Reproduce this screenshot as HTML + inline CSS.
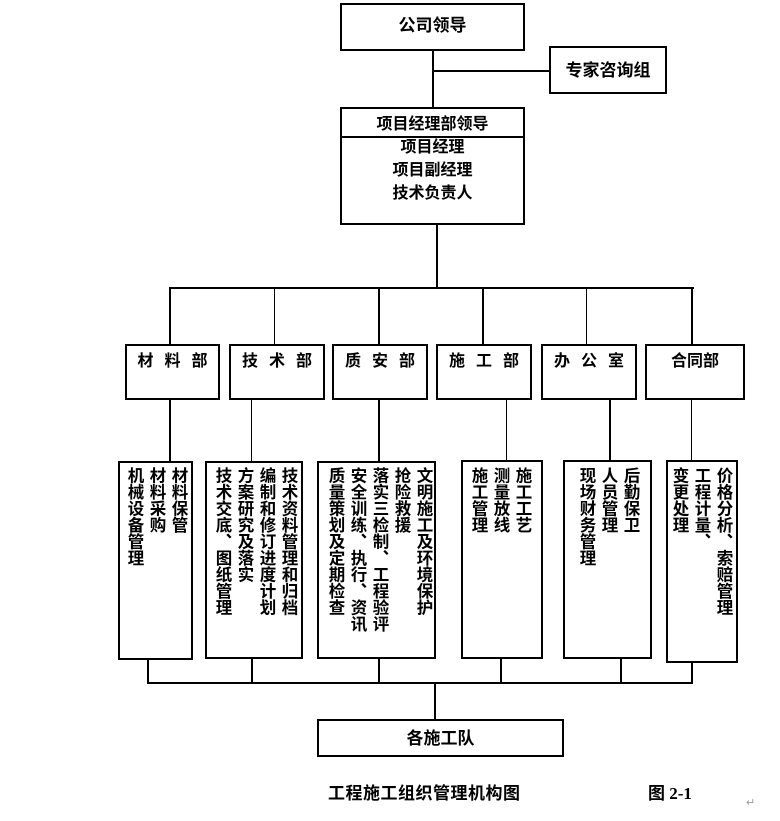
<!DOCTYPE html>
<html><head><meta charset="utf-8"><style>
body{margin:0;width:780px;height:821px;background:#fff;position:relative;overflow:hidden;font-family:"Liberation Serif","Noto Sans CJK SC",sans-serif;font-weight:bold;color:#000}
.b{position:absolute;border:2px solid #000;box-sizing:border-box;background:#fff}
.l{position:absolute;background:#000}
.t{position:absolute;font-size:16px;white-space:nowrap;line-height:1}
.v{position:absolute;writing-mode:vertical-rl;font-size:16.5px;line-height:22px;white-space:nowrap}
.d{position:absolute;top:353px;font-size:16px;line-height:18px;text-align:center;letter-spacing:11px;text-indent:11px}
</style></head><body>
<!-- lines -->
<div class="l" style="left:432px;top:50px;width:2px;height:58px"></div>
<div class="l" style="left:433px;top:70px;width:116px;height:2px"></div>
<div class="l" style="left:436px;top:224px;width:2px;height:65px"></div>
<div class="l" style="left:169px;top:287px;width:525px;height:2px"></div>
<div class="l" style="left:169px;top:288px;width:2px;height:56px"></div>
<div class="l" style="left:274px;top:288px;width:1px;height:56px"></div>
<div class="l" style="left:378px;top:288px;width:2px;height:56px"></div>
<div class="l" style="left:482px;top:288px;width:2px;height:56px"></div>
<div class="l" style="left:586px;top:288px;width:1px;height:56px"></div>
<div class="l" style="left:691px;top:288px;width:2px;height:56px"></div>
<div class="l" style="left:169px;top:399px;width:2px;height:62px"></div>
<div class="l" style="left:251px;top:399px;width:1px;height:62px"></div>
<div class="l" style="left:378px;top:399px;width:2px;height:62px"></div>
<div class="l" style="left:506px;top:399px;width:1px;height:62px"></div>
<div class="l" style="left:609px;top:399px;width:2px;height:62px"></div>
<div class="l" style="left:691px;top:399px;width:1px;height:62px"></div>
<div class="l" style="left:147px;top:658px;width:2px;height:26px"></div>
<div class="l" style="left:251px;top:658px;width:2px;height:26px"></div>
<div class="l" style="left:378px;top:658px;width:2px;height:26px"></div>
<div class="l" style="left:500px;top:658px;width:2px;height:26px"></div>
<div class="l" style="left:620px;top:658px;width:2px;height:26px"></div>
<div class="l" style="left:691px;top:662px;width:2px;height:22px"></div>
<div class="l" style="left:147px;top:682px;width:546px;height:2px"></div>
<div class="l" style="left:434px;top:683px;width:2px;height:36px"></div>

<!-- top -->
<div class="b" style="left:340px;top:3px;width:185px;height:48px"></div>
<div class="t" style="left:340px;width:185px;top:17px;font-size:17px;text-align:center">公司领导</div>
<div class="b" style="left:549px;top:46px;width:118px;height:48px"></div>
<div class="t" style="left:549px;width:118px;top:62px;font-size:17px;text-align:center">专家咨询组</div>
<div class="b" style="left:340px;top:107px;width:185px;height:118px"></div>
<div class="l" style="left:340px;top:136px;width:185px;height:2px"></div>
<div class="t" style="left:340px;width:185px;top:117px;text-align:center">项目经理部领导</div>
<div class="t" style="left:340px;width:185px;top:140px;text-align:center">项目经理</div>
<div class="t" style="left:340px;width:185px;top:163px;text-align:center">项目副经理</div>
<div class="t" style="left:340px;width:185px;top:186px;text-align:center">技术负责人</div>

<!-- depts -->
<div class="b" style="left:125px;top:344px;width:95px;height:56px"></div>
<div class="d" style="left:125px;width:95px">材料部</div>
<div class="b" style="left:229px;top:344px;width:96px;height:56px"></div>
<div class="d" style="left:229px;width:96px">技术部</div>
<div class="b" style="left:332px;top:344px;width:96px;height:56px"></div>
<div class="d" style="left:332px;width:96px">质安部</div>
<div class="b" style="left:436px;top:344px;width:96px;height:56px"></div>
<div class="d" style="left:436px;width:96px">施工部</div>
<div class="b" style="left:541px;top:344px;width:96px;height:56px"></div>
<div class="d" style="left:541px;width:96px">办公室</div>
<div class="b" style="left:645px;top:344px;width:100px;height:56px"></div>
<div class="d" style="left:645px;width:100px;letter-spacing:0;text-indent:0">合同部</div>

<!-- detail boxes -->
<div class="b" style="left:118px;top:461px;width:75px;height:199px"></div>
<div class="v" style="right:591px;top:467px">材料保管<br>材料采购<br>机械设备管理</div>
<div class="b" style="left:205px;top:461px;width:98px;height:198px"></div>
<div class="v" style="right:481px;top:467px">技术资料管理和归档<br>编制和修订进度计划<br>方案研究及落实<br>技术交底、图纸管理</div>
<div class="b" style="left:317px;top:461px;width:119px;height:198px"></div>
<div class="v" style="right:346px;top:467px">文明施工及环境保护<br>抢险救援<br>落实三检制、工程验评<br>安全训练、执行、资讯<br>质量策划及定期检查</div>
<div class="b" style="left:461px;top:460px;width:82px;height:199px"></div>
<div class="v" style="right:247px;top:467px">施工工艺<br>测量放线<br>施工管理</div>
<div class="b" style="left:563px;top:460px;width:89px;height:199px"></div>
<div class="v" style="right:139px;top:467px">后勤保卫<br>人员管理<br>现场财务管理</div>
<div class="b" style="left:666px;top:460px;width:72px;height:203px"></div>
<div class="v" style="right:46px;top:467px">价格分析、索赔管理<br>工程计量、<br>变更处理</div>

<!-- bottom -->
<div class="b" style="left:317px;top:719px;width:247px;height:38px"></div>
<div class="t" style="left:317px;width:247px;top:730px;font-size:17px;text-align:center">各施工队</div>
<div class="t" style="left:328px;top:785px;font-size:17px;letter-spacing:0.5px">工程施工组织管理机构图</div>
<div class="t" style="left:648px;top:785px;font-size:17px">图 2-1</div>
<div class="t" style="left:746px;top:798px;font-size:11px;color:#999;font-weight:normal">↵</div>
</body></html>
